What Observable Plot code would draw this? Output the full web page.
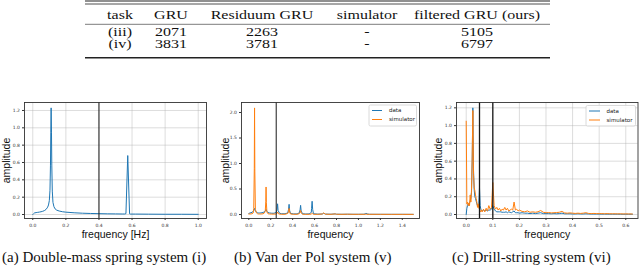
<!DOCTYPE html>
<html><head><meta charset="utf-8">
<script src="https://cdn.jsdelivr.net/npm/d3@7"></script>
<script src="https://cdn.jsdelivr.net/npm/@observablehq/plot@0.6"></script>
<style>
html,body{margin:0;padding:0;background:#fff;}
#root{position:relative;width:640px;height:270px;overflow:hidden;background:#fff;}
.panel{position:absolute;}
.panel svg{background:transparent !important;overflow:visible;}
#overlay{position:absolute;left:0;top:0;pointer-events:none;}
</style></head><body><div id="root"></div>
<script>
// ---------- table ----------
const tableHeader = ["task", "GRU", "Residuum GRU", "simulator", "filtered GRU (ours)"];
const tableTasks = ["(iii)", "(iv)"];
const gruVals = ["2071", "3831"];
const residuumVals = ["2263", "3781"];
const simulatorVals = ["-", "-"];
const filteredVals = ["5105", "6797"];

// ---------- captions ----------
const captions = ["(a) Double-mass spring system (i)", "(b) Van der Pol system (v)", "(c) Drill-string system (vi)"];

// ---------- panel (a) double-mass spring ----------
const freqA = [0, 0.005, 0.01, 0.02, 0.03, 0.04, 0.05, 0.06, 0.07, 0.08,
  0.09, 0.095, 0.1, 0.104, 0.107, 0.109, 0.111, 0.113, 0.115, 0.118,
  0.122, 0.128, 0.135, 0.145, 0.16, 0.18, 0.2, 0.25, 0.3, 0.35,
  0.4, 0.45, 0.5, 0.54, 0.556, 0.563, 0.574, 0.585, 0.59, 0.62,
  0.7, 0.8, 0.9, 1.0];
const ampA = [0.0, 0.01, 0.018, 0.022, 0.025, 0.028, 0.032, 0.037, 0.045, 0.058,
  0.085, 0.11, 0.16, 0.28, 0.57, 0.95, 1.23, 0.95, 0.57, 0.27,
  0.14, 0.09, 0.065, 0.05, 0.04, 0.032, 0.027, 0.02, 0.015, 0.012,
  0.01, 0.008, 0.007, 0.006, 0.006, 0.01, 0.68, 0.008, 0.005, 0.005,
  0.004, 0.003, 0.003, 0.002];
const cutA = [0.4];

// ---------- panel (b) Van der Pol ----------
const freqB = [0, 0.01, 0.02, 0.03, 0.04, 0.045, 0.05, 0.0525, 0.055, 0.06,
  0.07, 0.08, 0.09, 0.1, 0.11, 0.12, 0.13, 0.14, 0.15, 0.155,
  0.1575, 0.16, 0.165, 0.175, 0.19, 0.21, 0.23, 0.25, 0.258, 0.2625,
  0.267, 0.28, 0.3, 0.33, 0.355, 0.3625, 0.3675, 0.3725, 0.38, 0.41,
  0.44, 0.46, 0.4675, 0.4725, 0.4775, 0.49, 0.52, 0.55, 0.57, 0.5725,
  0.5775, 0.5825, 0.59, 0.63, 0.67, 0.6825, 0.7, 0.75, 0.7875, 0.8,
  0.85, 0.9, 0.95, 1.0, 1.05, 1.065, 1.07, 1.075, 1.1, 1.2,
  1.3, 1.4, 1.5];
const dataB = [0.02, 0.03, 0.035, 0.045, 0.06, 0.08, 0.11, 0.12, 0.1, 0.07,
  0.045, 0.035, 0.03, 0.03, 0.032, 0.035, 0.04, 0.05, 0.07, 0.09,
  0.1, 0.09, 0.06, 0.04, 0.03, 0.025, 0.025, 0.04, 0.1, 0.21,
  0.08, 0.025, 0.015, 0.015, 0.03, 0.1, 0.2, 0.08, 0.02, 0.012,
  0.012, 0.03, 0.09, 0.18, 0.07, 0.015, 0.01, 0.012, 0.04, 0.12,
  0.26, 0.1, 0.015, 0.008, 0.01, 0.025, 0.008, 0.006, 0.012, 0.006,
  0.005, 0.006, 0.005, 0.005, 0.006, 0.015, 0.03, 0.012, 0.005, 0.004,
  0.004, 0.004, 0.003];
const simB = [0.01, 0.01, 0.012, 0.015, 0.03, 0.12, 0.9, 2.09, 0.85, 0.1,
  0.03, 0.015, 0.01, 0.01, 0.01, 0.012, 0.015, 0.025, 0.06, 0.25,
  0.54, 0.24, 0.05, 0.015, 0.01, 0.008, 0.008, 0.01, 0.03, 0.05,
  0.02, 0.008, 0.005, 0.005, 0.02, 0.06, 0.12, 0.05, 0.01, 0.005,
  0.005, 0.015, 0.04, 0.08, 0.03, 0.006, 0.004, 0.004, 0.008, 0.015,
  0.025, 0.012, 0.005, 0.004, 0.01, 0.03, 0.006, 0.004, 0.012, 0.005,
  0.004, 0.006, 0.004, 0.004, 0.004, 0.005, 0.006, 0.005, 0.004, 0.004,
  0.003, 0.003, 0.003];
const cutB = [0.25];

// ---------- panel (c) drill-string ----------
const freqC = [0, 0.0025, 0.005, 0.0075, 0.01, 0.0125, 0.015, 0.0175, 0.02, 0.0225,
  0.025, 0.0275, 0.03, 0.0325, 0.035, 0.0375, 0.04, 0.0425, 0.045, 0.0475,
  0.05, 0.0525, 0.055, 0.0575, 0.06, 0.065, 0.07, 0.075, 0.08, 0.085,
  0.09, 0.095, 0.1, 0.105, 0.11, 0.115, 0.12, 0.125, 0.13, 0.135,
  0.14, 0.145, 0.15, 0.155, 0.16, 0.165, 0.17, 0.175, 0.18, 0.185,
  0.19, 0.195, 0.2, 0.21, 0.22, 0.23, 0.24, 0.25, 0.26, 0.27,
  0.28, 0.29, 0.3, 0.31, 0.32, 0.33, 0.34, 0.35, 0.36, 0.37,
  0.38, 0.39, 0.4, 0.41, 0.42, 0.43, 0.44, 0.45, 0.46, 0.47,
  0.48, 0.49, 0.5, 0.51, 0.52, 0.53, 0.54, 0.55, 0.56, 0.57,
  0.58, 0.59, 0.6, 0.61, 0.62, 0.625];
const dataC = [0.0, 0.07, 0.1, 0.12, 0.1, 0.13, 0.15, 0.18, 0.25, 0.6,
  1.2, 0.5, 0.28, 0.2, 0.18, 0.15, 0.12, 0.1, 0.09, 0.12,
  0.3, 0.1, 0.06, 0.05, 0.04, 0.05, 0.04, 0.05, 0.04, 0.05,
  0.05, 0.06, 0.1, 0.06, 0.04, 0.03, 0.03, 0.03, 0.03, 0.025,
  0.025, 0.025, 0.03, 0.02, 0.03, 0.025, 0.02, 0.03, 0.04, 0.02,
  0.02, 0.02, 0.015, 0.02, 0.015, 0.015, 0.01, 0.015, 0.01, 0.015,
  0.02, 0.01, 0.01, 0.01, 0.008, 0.01, 0.008, 0.01, 0.015, 0.008,
  0.008, 0.008, 0.006, 0.006, 0.008, 0.006, 0.006, 0.008, 0.006, 0.005,
  0.005, 0.005, 0.005, 0.004, 0.005, 0.004, 0.004, 0.004, 0.004, 0.004,
  0.003, 0.003, 0.003, 0.003, 0.003, 0.003];
const simC = [1.05, 0.12, 0.14, 0.1, 0.13, 0.1, 0.22, 0.14, 0.28, 0.65,
  1.17, 0.45, 0.3, 0.27, 0.22, 0.18, 0.14, 0.08, 0.12, 0.07,
  0.08, 0.04, 0.03, 0.05, 0.03, 0.06, 0.03, 0.07, 0.04, 0.1,
  0.06, 0.08, 0.36, 0.1, 0.06, 0.08, 0.05, 0.07, 0.04, 0.06,
  0.05, 0.08, 0.05, 0.07, 0.04, 0.05, 0.06, 0.05, 0.14, 0.05,
  0.06, 0.04, 0.05, 0.035, 0.03, 0.04, 0.025, 0.03, 0.025, 0.03,
  0.045, 0.025, 0.02, 0.022, 0.018, 0.02, 0.022, 0.025, 0.035, 0.018,
  0.015, 0.018, 0.015, 0.012, 0.015, 0.012, 0.015, 0.02, 0.012, 0.01,
  0.012, 0.01, 0.01, 0.01, 0.008, 0.01, 0.008, 0.008, 0.008, 0.007,
  0.008, 0.006, 0.007, 0.006, 0.006, 0.005];
const cutC = [0.05, 0.1];

// ---------- ticks ----------
const xTicksA = [0, 0.2, 0.4, 0.6, 0.8, 1.0];
const yTicksA = [0, 0.2, 0.4, 0.6, 0.8, 1.0, 1.2];
const xTicksB = [0, 0.2, 0.4, 0.6, 0.8, 1.0, 1.2, 1.4];
const yTicksB = [0, 0.5, 1.0, 1.5, 2.0];
const xTicksC = [0, 0.1, 0.2, 0.3, 0.4, 0.5, 0.6];
const yTicksC = [0, 0.2, 0.4, 0.6, 0.8, 1.0, 1.2];
const seriesNames = ["data", "simulator"];
const BLUE = "#1f77b4", ORANGE = "#ff7f0e";

const root = document.getElementById("root");
const fmt = d3.format(".1f");

function drawPanel(p) {
  const marks = [];
  if (p.grid) {
    marks.push(Plot.gridX({ticks: p.xTicks, stroke: "#b0b0b0", strokeOpacity: 0.55, strokeWidth: 0.8}));
    marks.push(Plot.gridY({ticks: p.yTicks, stroke: "#b0b0b0", strokeOpacity: 0.55, strokeWidth: 0.8}));
  }
  p.series.forEach(s => {
    const rows = s.x.map((f, i) => ({f, a: s.y[i]}));
    marks.push(Plot.line(rows, {x: "f", y: "a", stroke: s.color, strokeWidth: 1}));
  });
  marks.push(Plot.ruleX(p.cuts, {stroke: "#1a1a1a", strokeWidth: p.cutWidth}));
  marks.push(Plot.frame({stroke: "#333", strokeWidth: 0.9}));
  marks.push(Plot.axisX({ticks: p.xTicks, tickFormat: fmt, tickSize: 2, tickPadding: 3, fontSize: 4.5, fontFamily: "DejaVu Sans", color: "#333", label: null}));
  marks.push(Plot.axisY({ticks: p.yTicks, tickFormat: fmt, tickSize: 2, tickPadding: 2.5, fontSize: 4.5, fontFamily: "DejaVu Sans", color: "#333", label: null}));
  marks.push(Plot.text(["amplitude"], {text: d => d, frameAnchor: "left", dx: p.ylabelDx, rotate: -90, textAnchor: "middle", lineAnchor: "middle", fontSize: 10.5, fontFamily: "Liberation Sans", fill: "#111"}));
  marks.push(Plot.text([p.xlabel], {text: d => d, frameAnchor: "bottom", dy: 16, textAnchor: "middle", lineAnchor: "middle", fontSize: 10.5, fontFamily: "Liberation Sans", fill: "#111"}));
  const svg = Plot.plot({
    width: p.width, height: p.height,
    marginLeft: p.mL, marginRight: p.mR, marginTop: p.mT, marginBottom: p.mB,
    x: {domain: p.xDomain}, y: {domain: p.yDomain},
    style: {background: "transparent", overflow: "visible"},
    marks
  });
  const div = document.createElement("div");
  div.className = "panel";
  div.style.left = p.left + "px";
  div.style.top = p.top + "px";
  div.appendChild(svg);
  root.appendChild(div);
}

drawPanel({left: 0, top: 95, width: 215, height: 150, mL: 24, mR: 9, mT: 7, mB: 27,
  xDomain: [-0.05, 1.05], yDomain: [-0.046, 1.292], xTicks: xTicksA, yTicks: yTicksA, grid: true,
  series: [{x: freqA, y: ampA, color: BLUE}], cuts: cutA, cutWidth: 1, ylabelDx: -17.5, xlabel: "frequency [Hz]"});
drawPanel({left: 212, top: 95, width: 212, height: 150, mL: 29, mR: 5, mT: 7, mB: 27,
  xDomain: [-0.0666, 1.557], yDomain: [-0.078, 2.196], xTicks: xTicksB, yTicks: yTicksB, grid: false,
  series: [{x: freqB, y: dataB, color: BLUE}, {x: freqB, y: simB, color: ORANGE}], cuts: cutB, cutWidth: 1, ylabelDx: -16, xlabel: "frequency"});
drawPanel({left: 424, top: 95, width: 216, height: 150, mL: 32, mR: 2.5, mT: 7, mB: 27,
  xDomain: [-0.0365, 0.646], yDomain: [-0.045, 1.26], xTicks: xTicksC, yTicks: yTicksC, grid: true,
  series: [{x: freqC, y: dataC, color: BLUE}, {x: freqC, y: simC, color: ORANGE}], cuts: cutC, cutWidth: 1.3, ylabelDx: -17.5, xlabel: "frequency"});

// ---------- overlay: table, legends, captions ----------
const ov = d3.select(root).append("svg").attr("id", "overlay").attr("width", 640).attr("height", 270);
const tx0 = 85, tx1 = 550;
[[1, 1.1], [4, 0.8], [24.3, 0.6], [57.8, 1.4]].forEach(([y, w]) => {
  ov.append("line").attr("x1", tx0).attr("x2", tx1).attr("y1", y).attr("y2", y).attr("stroke", "#222").attr("stroke-width", w);
});
const colX = [120, 171, 262, 367, 477];
const rowsY = [19, 35.6, 47.8];
const tableRows = [tableHeader, [tableTasks[0], gruVals[0], residuumVals[0], simulatorVals[0], filteredVals[0]],
  [tableTasks[1], gruVals[1], residuumVals[1], simulatorVals[1], filteredVals[1]]];
tableRows.forEach((row, r) => {
  row.forEach((t, c) => {
    ov.append("text").attr("transform", `translate(${colX[c]},${rowsY[r]}) scale(1,0.72)`)
      .attr("text-anchor", "middle").attr("font-family", "Liberation Serif").attr("font-size", 16)
      .attr("fill", "#111").text(t);
  });
});
function legend(x, y, w, h, lineX0, lineX1, textX) {
  const g = ov.append("g").attr("transform", `translate(${x},${y})`);
  g.append("rect").attr("width", w).attr("height", h).attr("rx", 1.5).attr("fill", "rgba(255,255,255,0.85)").attr("stroke", "#d0d0d0").attr("stroke-width", 0.8);
  [BLUE, ORANGE].forEach((c, i) => {
    const yy = 5.5 + i * 9;
    g.append("line").attr("x1", lineX0).attr("x2", lineX1).attr("y1", yy).attr("y2", yy).attr("stroke", c).attr("stroke-width", 1);
    g.append("text").attr("x", textX).attr("y", yy).attr("dy", "0.35em").attr("font-family", "DejaVu Sans").attr("font-size", 5.5).attr("fill", "#222").text(seriesNames[i]);
  });
}
legend(369, 105, 47.5, 21, 3, 13, 20);
legend(586, 105.5, 49.5, 20.5, 3, 14, 20.5);
const capX = [2, 234, 452];
captions.forEach((t, i) => {
  ov.append("text").attr("x", capX[i]).attr("y", 262).attr("font-family", "Liberation Serif").attr("font-size", 15).attr("fill", "#111").text(t);
});
</script></body></html>
